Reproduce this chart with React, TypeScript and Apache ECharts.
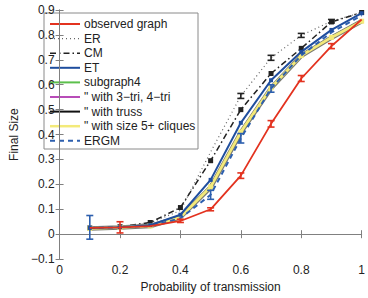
import React, { useEffect, useRef } from "react";
import * as echarts from "echarts";

const probs = [0.1, 0.2, 0.3, 0.4, 0.5, 0.6, 0.7, 0.8, 0.9, 1.0];
const observed = [0.025, 0.027, 0.032, 0.053, 0.1, 0.235, 0.443, 0.625, 0.755, 0.862];
const er = [0.025, 0.03, 0.045, 0.095, 0.33, 0.555, 0.708, 0.798, 0.855, 0.89];
const cm = [0.025, 0.03, 0.047, 0.107, 0.295, 0.5, 0.645, 0.746, 0.852, 0.89];
const et = [0.025, 0.028, 0.036, 0.078, 0.218, 0.447, 0.618, 0.732, 0.82, 0.887];
const subgraph4 = [0.024, 0.027, 0.034, 0.07, 0.193, 0.413, 0.59, 0.72, 0.793, 0.857];
const tri34 = [0.024, 0.027, 0.033, 0.069, 0.19, 0.41, 0.588, 0.718, 0.791, 0.856];
const truss = [0.023, 0.027, 0.033, 0.068, 0.188, 0.408, 0.586, 0.716, 0.789, 0.855];
const cliques5 = [0.023, 0.027, 0.033, 0.068, 0.19, 0.41, 0.588, 0.717, 0.79, 0.855];
const ergm = [0.025, 0.028, 0.033, 0.064, 0.158, 0.385, 0.585, 0.718, 0.81, 0.878];

// error bars: [x, low, high]
const observedErr = [
  [0.2, 0.005, 0.05],
  [0.4, 0.047, 0.06],
  [0.5, 0.094, 0.106],
  [0.6, 0.224, 0.246],
  [0.7, 0.43, 0.456],
  [0.8, 0.613, 0.637],
  [0.9, 0.745, 0.765],
];
const erErr = [
  [0.6, 0.545, 0.565],
  [0.7, 0.698, 0.718],
  [0.8, 0.79, 0.806],
  [0.9, 0.848, 0.862],
];
const ergmErr = [
  [0.1, -0.02, 0.075],
  [0.5, 0.14, 0.176],
  [0.6, 0.366, 0.404],
  [0.7, 0.57, 0.6],
];

const xTicks = ["0", "0.2", "0.4", "0.6", "0.8", "1"];

const C = {
  red: "#e3321f",
  er: "#666666",
  cm: "#222222",
  et: "#1f4e9e",
  green: "#5cc04c",
  magenta: "#b84cb8",
  truss: "#7a7a70",
  yellow: "#f3ea7a",
  ergm: "#2d5fae",
};

const legendItems = [
  { name: "observed graph", color: C.red, dash: null as number[] | null, width: 2 },
  { name: "ER", color: C.er, dash: [1, 3], width: 1.2 },
  { name: "CM", color: C.cm, dash: [6, 3, 1.5, 3], width: 1.5 },
  { name: "ET", color: C.et, dash: null, width: 2 },
  { name: "subgraph4", color: C.green, dash: null, width: 2 },
  { name: "\" with 3\u2212tri, 4\u2212tri", color: C.magenta, dash: null, width: 2 },
  { name: "\" with truss", color: "#111", dash: null, width: 2 },
  { name: "\" with size 5+ cliques", color: C.yellow, dash: null, width: 2.5 },
  { name: "ERGM", color: C.ergm, dash: [5, 4], width: 2 },
];

const FONT = "'Liberation Sans', Arial, Helvetica, sans-serif";

function zip(vals: number[]) {
  return probs.map((p, i) => [p, vals[i]]);
}

function errSeries(data: number[][], color: string, z: number) {
  return {
    type: "custom",
    xAxisIndex: 0,
    yAxisIndex: 0,
    z,
    encode: { x: 0, y: [1, 2] },
    data,
    renderItem: (_params: any, api: any) => {
      const x = api.value(0);
      const lo = api.coord([x, api.value(1)]);
      const hi = api.coord([x, api.value(2)]);
      const w = 3.5;
      const style = { stroke: color, lineWidth: 1.6, fill: "none" };
      return {
        type: "group",
        children: [
          { type: "line", shape: { x1: lo[0], y1: lo[1], x2: hi[0], y2: hi[1] }, style },
          { type: "line", shape: { x1: lo[0] - w, y1: lo[1], x2: lo[0] + w, y2: lo[1] }, style },
          { type: "line", shape: { x1: hi[0] - w, y1: hi[1], x2: hi[0] + w, y2: hi[1] }, style },
        ],
      };
    },
  };
}

function lineSeries(name: string, vals: number[], color: string, width: number, type: any, z: number, symbol = "none", symbolSize = 5) {
  return {
    name,
    type: "line",
    data: zip(vals),
    xAxisIndex: 0,
    yAxisIndex: 0,
    z,
    symbol,
    symbolSize,
    showSymbol: symbol !== "none",
    itemStyle: { color },
    lineStyle: { color, width, type },
    emphasis: { disabled: true },
  };
}

export default function App() {
  const ref = useRef<HTMLDivElement>(null);
  useEffect(() => {
    if (!ref.current) return;
    document.body.style.margin = "0";
    const chart = echarts.init(ref.current, undefined, { renderer: "svg" });

    const legendX = 44, legendY = 13, legendW = 154, legendH = 136;
    const rowStart = 24, rowGap = 14.6;
    const legendChildren: any[] = [
      {
        type: "rect",
        shape: { x: legendX, y: legendY, width: legendW, height: legendH },
        style: { fill: "#fff", stroke: "#8a8a8a", lineWidth: 1 },
      },
    ];
    legendItems.forEach((it, i) => {
      const y = rowStart + i * rowGap;
      legendChildren.push({
        type: "line",
        shape: { x1: 50, y1: y, x2: 80, y2: y },
        style: { stroke: it.color, lineWidth: it.width, lineDash: it.dash || undefined },
      });
      legendChildren.push({
        type: "text",
        x: 84,
        y,
        style: { text: it.name, fill: "#222", font: `12px ${FONT}`, verticalAlign: "middle", align: "left" },
      });
    });

    const axisLine = { show: true, lineStyle: { color: "#808080", width: 1 } };
    const axisTick = { show: true, inside: true, length: 4, lineStyle: { color: "#808080" } };
    const yFmt = (v: number) => {
      const r = Math.round(v * 10) / 10;
      if (r === 0) return "0";
      return r.toFixed(1).replace("-", "\u2212");
    };

    chart.setOption({
      animation: false,
      backgroundColor: "#fff",
      textStyle: { fontFamily: FONT },
      grid: { left: 40, right: 6, top: 10, bottom: 32, containLabel: false },
      xAxis: [
        {
          type: "value",
          min: 0,
          max: 1,
          interval: 0.2,
          position: "bottom",
          name: "Probability of transmission",
          nameLocation: "middle",
          nameGap: 17,
          nameTextStyle: { color: "#222", fontSize: 12, fontFamily: FONT },
          axisLine,
          axisTick,
          splitLine: { show: false },
          axisLabel: {
            color: "#222",
            fontSize: 12,
            margin: 5,
            fontFamily: FONT,
            formatter: (v: number) => xTicks[Math.round(v * 5)] ?? "",
          },
        },
        {
          type: "value",
          min: 0,
          max: 1,
          interval: 0.2,
          position: "top",
          axisLine,
          axisTick,
          splitLine: { show: false },
          axisLabel: { show: false },
        },
      ],
      yAxis: [
        {
          type: "value",
          min: -0.1,
          max: 0.9,
          interval: 0.1,
          position: "left",
          name: "Final Size",
          nameLocation: "middle",
          nameGap: 29,
          nameRotate: 90,
          nameTextStyle: { color: "#222", fontSize: 12, fontFamily: FONT },
          axisLine,
          axisTick,
          splitLine: { show: false },
          axisLabel: { color: "#222", fontSize: 12, margin: 5, fontFamily: FONT, formatter: yFmt },
        },
        {
          type: "value",
          min: -0.1,
          max: 0.9,
          interval: 0.1,
          position: "right",
          axisLine,
          axisTick,
          splitLine: { show: false },
          axisLabel: { show: false },
        },
      ],
      series: [
        lineSeries("ER", er, C.er, 1.2, [1, 3], 2),
        errSeries(erErr, "#222", 3),
        lineSeries("CM", cm, C.cm, 1.5, [6, 3, 1.5, 3], 3, "rect", 5),
        lineSeries("subgraph4", subgraph4, C.green, 2, "solid", 4),
        lineSeries("\" with 3\u2212tri, 4\u2212tri", tri34, C.magenta, 2, "solid", 4),
        lineSeries("\" with truss", truss, C.truss, 4.5, "solid", 5),
        lineSeries("\" with size 5+ cliques", cliques5, C.yellow, 2.8, "solid", 6, "rect", 5),
        lineSeries("ERGM", ergm, C.ergm, 2, [5, 4], 7),
        errSeries(ergmErr, C.ergm, 7),
        lineSeries("ET", et, C.et, 2, "solid", 8, "rect", 4),
        lineSeries("observed graph", observed, C.red, 1.8, "solid", 9),
        errSeries(observedErr, C.red, 9),
      ],
      graphic: [{ type: "group", z: 100, children: legendChildren }],
    });
    return () => chart.dispose();
  }, []);
  return <div ref={ref} style={{ width: 368, height: 298, position: "absolute", left: 0, top: 0 }} />;
}
